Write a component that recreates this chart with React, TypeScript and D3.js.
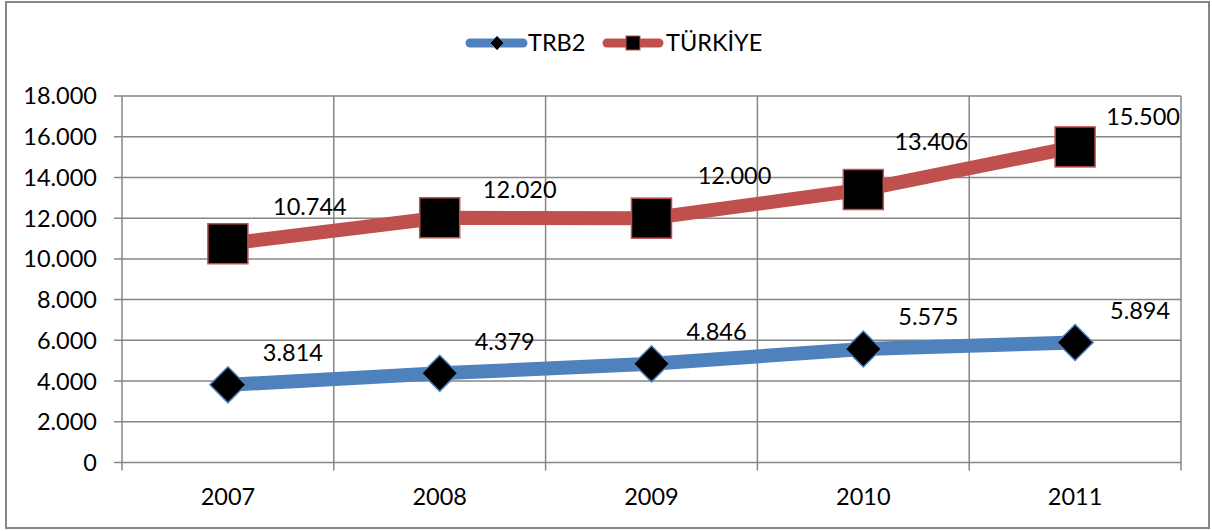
import React from "react";
import * as d3 from "d3";

const years = ["2007", "2008", "2009", "2010", "2011"];
const trb2 = [3814, 4379, 4846, 5575, 5894];
const turkiye = [10744, 12020, 12000, 13406, 15500];
const yTicks = [0, 2000, 4000, 6000, 8000, 10000, 12000, 14000, 16000, 18000];

// label nudges (layout only)
const trLabelDy = [-37, -28, -43, -48, -30];
const trLabelDx = [82, 80, 83, 68, 68];

const W = 1212;
const H = 531;
const left = 122;
const right = 1181;
const top = 96;
const bottom = 462.5;
const FONT = "Lato, 'Open Sans', sans-serif";
const FS = 23.5;
const BLUE = "#4F81BD";
const RED = "#C0504D";
const GRID = "#868686";

const fmt = (v: number) => (v === 0 ? "0" : d3.format(",.3f")(v / 1000).replace(",", ""));

export default function App() {
  const x = d3.scaleBand().domain(years).range([left, right]);
  const y = d3.scaleLinear().domain([0, 18000]).range([bottom, top]);
  const cx = (d: string) => (x(d) as number) + x.bandwidth() / 2;
  const line = d3
    .line<number>()
    .x((_, i) => cx(years[i]))
    .y((v) => y(v));

  const diamond = (px: number, py: number, r: number) =>
    `M${px},${py - r}L${px + r},${py}L${px},${py + r}L${px - r},${py}Z`;

  return (
    <svg width={W} height={H} style={{ position: "absolute", left: 0, top: 0 }}>
      <rect x={0} y={0} width={W} height={H} fill="white" />
      <rect x={6} y={2} width={1203} height={526} fill="none" stroke={GRID} strokeWidth={2} />
      {yTicks.map((t) => (
        <g key={t}>
          <line x1={left - 8} x2={right} y1={y(t)} y2={y(t)} stroke={GRID} strokeWidth={1.5} />
          <text x={97} y={y(t)} dy="0.36em" textAnchor="end" fontFamily={FONT} fontSize={FS} fill="#000">
            {fmt(t)}
          </text>
        </g>
      ))}
      {[...years.map((d) => x(d) as number), right].map((vx, i) => (
        <line key={i} x1={vx} x2={vx} y1={top} y2={bottom + 8} stroke={GRID} strokeWidth={1.5} />
      ))}
      {years.map((d) => (
        <text key={d} x={cx(d)} y={497} dy="0.36em" textAnchor="middle" fontFamily={FONT} fontSize={FS} fill="#000">
          {d}
        </text>
      ))}
      <path d={line(trb2) || ""} fill="none" stroke={BLUE} strokeWidth={14} strokeLinecap="round" strokeLinejoin="round" />
      <path d={line(turkiye) || ""} fill="none" stroke={RED} strokeWidth={14} strokeLinecap="round" strokeLinejoin="round" />
      {trb2.map((v, i) => (
        <path key={i} d={diamond(cx(years[i]), y(v), 18)} fill="#000" stroke={BLUE} strokeWidth={1.5} />
      ))}
      {turkiye.map((v, i) => (
        <rect key={i} x={cx(years[i]) - 20} y={y(v) - 20} width={40} height={40} fill="#000" stroke={RED} strokeWidth={1.5} />
      ))}
      {trb2.map((v, i) => (
        <text key={i} x={cx(years[i]) + 65} y={y(v) - 32} dy="0.36em" textAnchor="middle" fontFamily={FONT} fontSize={FS} fill="#000">
          {fmt(v)}
        </text>
      ))}
      {turkiye.map((v, i) => (
        <text
          key={i}
          x={cx(years[i]) + trLabelDx[i]}
          y={y(v) + trLabelDy[i]}
          dy="0.36em"
          textAnchor="middle"
          fontFamily={FONT}
          fontSize={FS}
          fill="#000"
        >
          {fmt(v)}
        </text>
      ))}
      <line x1={470} x2={523} y1={43} y2={43} stroke={BLUE} strokeWidth={9} strokeLinecap="round" />
      <path d={diamond(497, 43, 7)} fill="#000" stroke={BLUE} strokeWidth={1} />
      <text x={528} y={43} dy="0.36em" fontFamily={FONT} fontSize={FS} fill="#000">
        TRB2
      </text>
      <line x1={607} x2={659} y1={43} y2={43} stroke={RED} strokeWidth={9} strokeLinecap="round" />
      <rect x={626} y={36} width={14} height={14} fill="#000" stroke={RED} strokeWidth={1} />
      <text x={666} y={43} dy="0.36em" fontFamily={FONT} fontSize={FS} fill="#000">
        TÜRKİYE
      </text>
    </svg>
  );
}
